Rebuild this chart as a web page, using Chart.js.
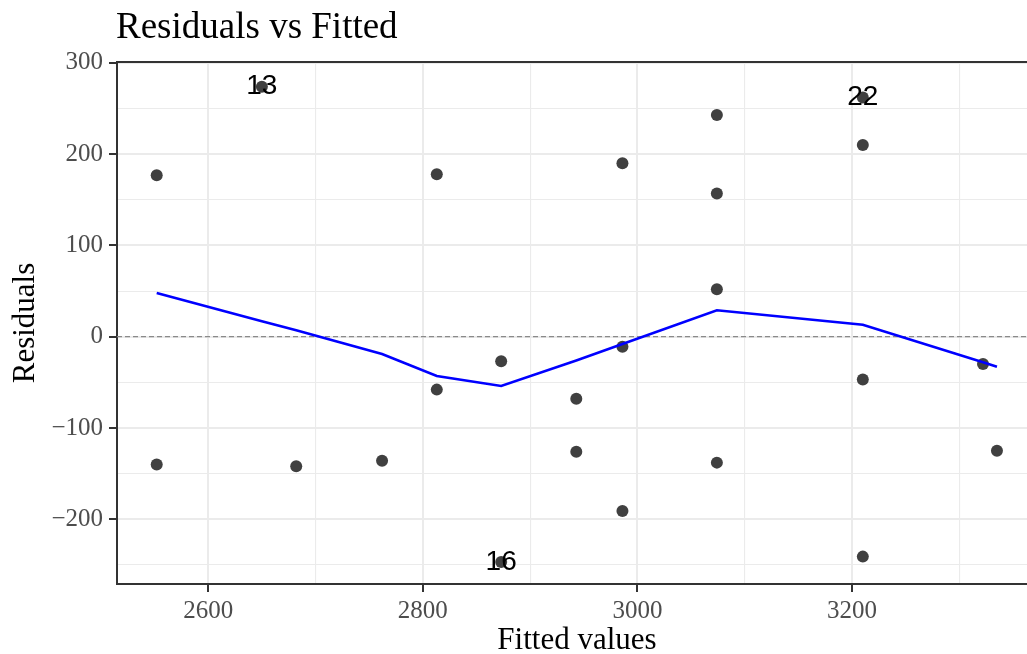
<!DOCTYPE html>
<html>
<head>
<meta charset="utf-8">
<title>Residuals vs Fitted</title>
<script src="https://cdn.jsdelivr.net/npm/chart.js@4.4.1/dist/chart.umd.min.js"></script>
<style>
  html, body { margin: 0; padding: 0; background: #fff; }
  canvas { display: block; }
</style>
</head>
<body>
<canvas id="residChart" width="1027" height="654"></canvas>
<script>
// fitted values / residuals
const fittedVals = [2552, 2552, 2650, 2682, 2762, 2813, 2813, 2873, 2873, 2943, 2943, 2986,
                    2986, 2986, 3074, 3074, 3074, 3074, 3210, 3210, 3210, 3210, 3322, 3335];
const residVals = [177, -140, 274, -142, -136, 178, -58, -27, -247, -68, -126, 190,
                   -11, -191, 243, 157, 52, -138, 262, 210, -47, -241, -30, -125];
const pointLabels = ["", "", "13", "", "", "", "", "", "16", "", "", "",
                     "", "", "", "", "", "", "22", "", "", "", "", ""];

// loess smoother
const smoothX = [2552, 2650, 2682, 2762, 2813, 2873, 2943, 2986, 3074, 3210, 3322, 3335];
const smoothY = [48, 17, 7, -19, -43, -54, -26, -8, 29, 13, -28, -33];

const xTickVals = [2600, 2700, 2800, 2900, 3000, 3100, 3200, 3300];
const xLabelVals = [2600, 2800, 3000, 3200];
const yTickVals = [-250, -200, -150, -100, -50, 0, 50, 100, 150, 200, 250, 300];
const yLabelVals = [-200, -100, 0, 100, 200, 300];
const xRange = [2515, 3363];
const yRange = [-271, 301];

const serif = "'Liberation Serif', 'Times New Roman', serif";

const isMajor = (c, list) => c.tick && list.includes(c.tick.value);

const annotate = {
    id: "annotate",
    afterDatasetsDraw(chart) {
        const ctx = chart.ctx;
        const pts = chart.getDatasetMeta(1).data;
        ctx.save();
        ctx.fillStyle = "#000";
        ctx.font = "28px 'Liberation Sans', Arial, sans-serif";
        ctx.textAlign = "center";
        ctx.textBaseline = "middle";
        pointLabels.forEach((lab, i) => {
            if (lab) ctx.fillText(lab, pts[i].x, pts[i].y);
        });
        ctx.restore();
    },
    afterDraw(chart) {
        const ctx = chart.ctx;
        const area = chart.chartArea;
        ctx.save();
        // top border of panel
        ctx.strokeStyle = "#333";
        ctx.lineWidth = 2;
        ctx.beginPath();
        ctx.moveTo(area.left, area.top);
        ctx.lineTo(area.right, area.top);
        ctx.stroke();

        ctx.fillStyle = "#000";
        ctx.textBaseline = "alphabetic";
        ctx.font = "37px " + serif;
        ctx.textAlign = "left";
        ctx.fillText("Residuals vs Fitted", 116, 38);

        ctx.font = "31px " + serif;
        ctx.textAlign = "center";
        ctx.fillText("Fitted values", 577, 649);

        ctx.translate(34, (area.top + area.bottom) / 2);
        ctx.rotate(-Math.PI / 2);
        ctx.fillText("Residuals", 0, 0);
        ctx.restore();
    },
};

new Chart(document.getElementById("residChart"), {
    type: "scatter",
    data: {
        datasets: [
            {
                label: "smooth",
                data: smoothX.map((x, i) => ({ x: x, y: smoothY[i] })),
                showLine: true,
                borderColor: "#0000ff",
                borderWidth: 2.6,
                pointRadius: 0,
                fill: false,
            },
            {
                label: "residuals",
                data: fittedVals.map((x, i) => ({ x: x, y: residVals[i] })),
                backgroundColor: "#404040",
                borderWidth: 0,
                pointRadius: 6,
            },
            {
                label: "zero",
                data: [{ x: xRange[0], y: 0 }, { x: xRange[1], y: 0 }],
                showLine: true,
                borderColor: "#8a8a8a",
                borderWidth: 1.2,
                borderDash: [5, 3],
                pointRadius: 0,
            },
        ],
    },
    options: {
        responsive: false,
        animation: false,
        devicePixelRatio: 1,
        events: [],
        layout: {
            autoPadding: false,
            padding: { top: 62, left: 0, right: 0, bottom: 0 },
        },
        plugins: {
            legend: { display: false },
            tooltip: { enabled: false },
        },
        scales: {
            x: {
                type: "linear",
                min: xRange[0],
                max: xRange[1],
                afterBuildTicks: (s) => { s.ticks = xTickVals.map((v) => ({ value: v })); },
                afterFit: (s) => {
                    s.height = 70;
                    s.paddingLeft = 0;
                    s.paddingRight = 0;
                },
                border: { display: true, color: "#333", width: 2 },
                grid: {
                    color: "#ebebeb",
                    lineWidth: (c) => (isMajor(c, xLabelVals) ? 2 : 1.1),
                    tickLength: 8,
                    tickWidth: 2,
                    tickColor: (c) => (isMajor(c, xLabelVals) ? "#333" : "rgba(0,0,0,0)"),
                },
                ticks: {
                    autoSkip: false,
                    maxRotation: 0,
                    padding: 4,
                    color: "#4d4d4d",
                    font: { family: serif, size: 25 },
                    callback: (v) => (xLabelVals.includes(v) ? String(v) : ""),
                },
            },
            y: {
                type: "linear",
                min: yRange[0],
                max: yRange[1],
                afterBuildTicks: (s) => { s.ticks = yTickVals.map((v) => ({ value: v })); },
                afterFit: (s) => { s.width = 117; },
                border: { display: true, color: "#333", width: 2 },
                grid: {
                    color: "#ebebeb",
                    lineWidth: (c) => (isMajor(c, yLabelVals) ? 2 : 1.1),
                    tickLength: 8,
                    tickWidth: 2,
                    tickColor: (c) => (isMajor(c, yLabelVals) ? "#333" : "rgba(0,0,0,0)"),
                },
                ticks: {
                    autoSkip: false,
                    padding: 6,
                    color: "#4d4d4d",
                    font: { family: serif, size: 25 },
                    callback: (v) => (yLabelVals.includes(v) ? String(v).replace("-", "\u2212") : ""),
                },
            },
        },
    },
    plugins: [annotate],
});
</script>
</body>
</html>
